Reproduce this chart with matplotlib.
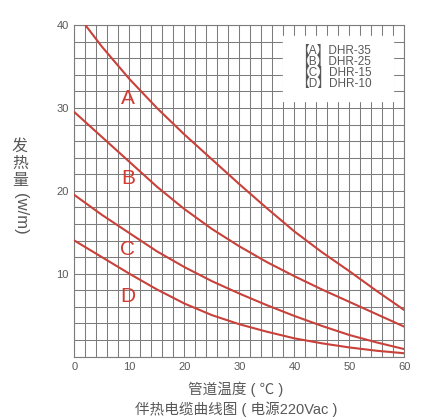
import numpy as np
import matplotlib.pyplot as plt

plt.rcParams['font.family'] = ['Liberation Sans', 'Noto Sans CJK SC', 'DejaVu Sans']

# pipe temperature (C) and heat output (w/m)
x_a = [2, 5, 10, 15, 20, 25, 30, 35, 40, 45, 50, 55, 60]
y_a = [40.0, 37.4, 33.5, 30.0, 26.8, 23.8, 20.8, 17.9, 15.1, 12.6, 10.3, 7.9, 5.6]

x_bcd = [0, 5, 10, 15, 20, 25, 30, 35, 40, 45, 50, 55, 60]
y_b = [29.5, 26.5, 23.5, 20.5, 17.8, 15.4, 13.3, 11.4, 9.7, 8.1, 6.6, 5.1, 3.6]
y_c = [19.5, 17.1, 14.9, 12.7, 10.8, 9.1, 7.6, 6.2, 4.9, 3.7, 2.6, 1.7, 0.9]
y_d = [14.0, 12.0, 10.0, 8.1, 6.4, 5.0, 3.9, 3.0, 2.2, 1.6, 1.1, 0.7, 0.4]

letters = ["A", "B", "C", "D"]
letter_y = [31.2, 21.5, 12.9, 7.2]
legend_lines = ["【A】DHR-35", "【B】DHR-25", "【C】DHR-15", "【D】DHR-10"]

red = "#c8413a"
grey = "#7c7c7c"
text_grey = "#585858"

fig = plt.figure(figsize=(4.33, 4.2), dpi=100)
ax = fig.add_axes([0.172, 0.151, 0.762, 0.789])

ax.set_xlim(0, 60)
ax.set_ylim(0, 40)
ax.set_xticks(np.arange(0, 61, 2), minor=True)
ax.set_yticks(np.arange(0, 41, 2), minor=True)
ax.set_xticks([0, 10, 20, 30, 40, 50, 60])
ax.set_yticks([10, 20, 30, 40])
ax.grid(True, which="both", color=grey, linewidth=0.75)
ax.tick_params(which="both", length=0, labelsize=8, labelcolor=text_grey, pad=4)
for s in ax.spines.values():
    s.set_color(grey)
    s.set_linewidth(0.8)
ax.set_axisbelow(True)

# white box behind the legend text
ax.fill_between([38, 58], 30.9, 38.7, color="white", zorder=1.5)
ax.text(40.4, 34.9, "\n".join(legend_lines), fontsize=8.5, color=text_grey,
        va="center", ha="left", linespacing=0.9, zorder=3)

for ys, xs in [(y_a, x_a), (y_b, x_bcd), (y_c, x_bcd), (y_d, x_bcd)]:
    ax.plot(xs, ys, color=red, linewidth=1.5, zorder=4, solid_capstyle="round")

for lt, ly in zip(letters, letter_y):
    ax.text(9.7, ly, lt, fontsize=15, color="#d03b33", ha="center", va="center",
            zorder=5)

# y label: upright characters then rotated unit
for i, ch in enumerate(["发", "热", "量"]):
    fig.text(20 / 433, 1 - (146 + i * 17.2) / 420, ch, fontsize=11.5, color=text_grey,
             ha="center", va="center")
fig.text(20 / 433, 1 - 214 / 420, "(w/m)", fontsize=12, color=text_grey,
         rotation=270, ha="center", va="center")

fig.text(236 / 433, 1 - 389 / 420, "管道温度 ( ℃ )", fontsize=10.5, color=text_grey,
         ha="center", va="center")
fig.text(236 / 433, 1 - 409 / 420, "伴热电缆曲线图 ( 电源220Vac )", fontsize=10.5,
         color=text_grey, ha="center", va="center")

fig.savefig("out.png", dpi=100)
